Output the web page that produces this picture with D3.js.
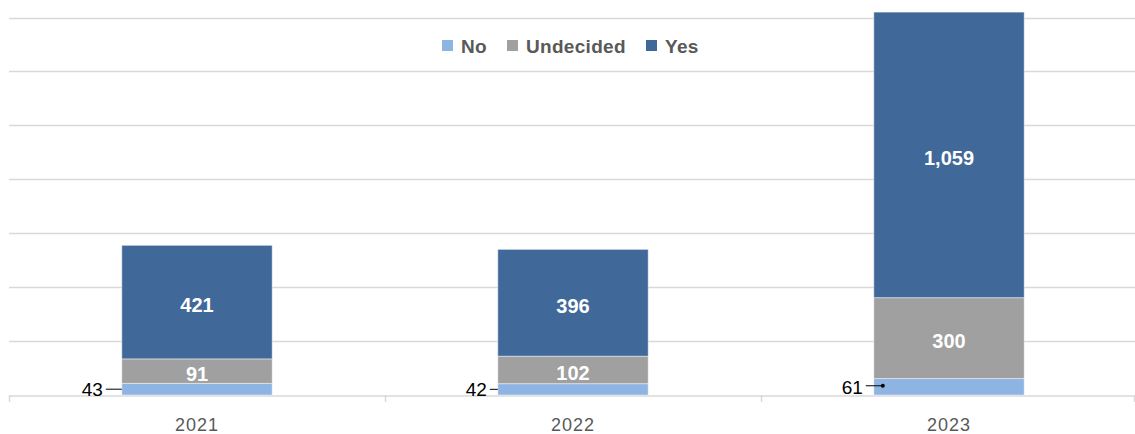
<!DOCTYPE html>
<html><head><meta charset="utf-8">
<script src="https://cdn.jsdelivr.net/npm/d3@7"></script>
<style>
html,body{margin:0;padding:0;background:#fff;}
svg{display:block;font-family:"Liberation Sans",Arial,sans-serif;}
</style></head>
<body><svg id="chart" width="1135" height="434"></svg>
<script>
const years = ["2021", "2022", "2023"];
const seriesNames = ["No", "Undecided", "Yes"];
const noValues = [43, 42, 61];
const undecidedValues = [91, 102, 300];
const yesValues = [421, 396, 1059];
const yTicks = [0, 200, 400, 600, 800, 1000, 1200, 1400];
const colors = ["#8DB4E2", "#A0A0A0", "#40699A"];

const rows = years.map((y, i) => ({year: y, No: noValues[i], Undecided: undecidedValues[i], Yes: yesValues[i]}));
const stack = d3.stack().keys(seriesNames)(rows);

const svg = d3.select("#chart");
const x = d3.scaleBand().domain(years).range([9, 1137]).paddingInner(0).paddingOuter(0);
const y = d3.scaleLinear().domain([0, 1400]).range([395, 17.5]);
const barW = x.bandwidth() * 0.4;

// gridlines
svg.append("g").selectAll("line").data(yTicks.slice(1)).join("line")
  .attr("x1", 9).attr("x2", 1135)
  .attr("y1", d => Math.round(y(d)) + 0.5).attr("y2", d => Math.round(y(d)) + 0.5)
  .attr("stroke", "#D9D9D9").attr("stroke-width", 1.5);

// bars
const groups = svg.append("g").selectAll("g").data(stack).join("g")
  .attr("fill", (d, i) => colors[i]);
groups.selectAll("rect").data(d => d).join("rect")
  .attr("x", d => x(d.data.year) + (x.bandwidth() - barW) / 2)
  .attr("width", barW)
  .attr("y", d => y(d[1]))
  .attr("height", d => y(d[0]) - y(d[1]))
  .attr("stroke", "rgba(255,255,255,0.45)").attr("stroke-width", 1);

// x axis
const xAxis = d3.axisBottom(x).tickSize(0).tickPadding(23);
const ax = svg.append("g").attr("transform", "translate(0,395.5)").call(xAxis);
ax.select(".domain").attr("stroke", "#D9D9D9").attr("stroke-width", 1.5);
ax.selectAll("text").attr("font-size", 18).attr("fill", "#595959")
  .attr("font-family", "Liberation Sans, Arial, sans-serif").attr("letter-spacing", "1px");
// category boundary ticks
svg.append("g").selectAll("line").data([9, 385, 761, 1134]).join("line")
  .attr("x1", d => d + 0.5).attr("x2", d => d + 0.5)
  .attr("y1", 395).attr("y2", 402)
  .attr("stroke", "#D9D9D9").attr("stroke-width", 1.5);

// inside labels for Undecided and Yes
stack.slice(1).forEach(s => {
  svg.append("g").selectAll("text").data(s).join("text")
    .attr("x", d => x(d.data.year) + x.bandwidth() / 2)
    .attr("y", d => (y(d[0]) + y(d[1])) / 2 + 3)
    .attr("dy", "0.35em").attr("text-anchor", "middle")
    .attr("fill", "#fff").attr("font-weight", "bold").attr("font-size", 20)
    .text(d => d3.format(",")(d[1] - d[0]));
});

// No labels with leader lines
const noS = stack[0];
const leaderLen = [16, 8, 17];
const textGap = [19, 11, 11];
noS.forEach((d, i) => {
  const bx = x(d.data.year) + (x.bandwidth() - barW) / 2;
  const cy = (y(d[0]) + y(d[1])) / 2;
  if (i < 2) {
    svg.append("line").attr("x1", bx - leaderLen[i]).attr("x2", bx)
      .attr("y1", cy).attr("y2", cy).attr("stroke", "#000").attr("stroke-width", 1);
  } else {
    svg.append("line").attr("x1", bx - 8).attr("x2", bx + 9)
      .attr("y1", cy - 1).attr("y2", cy - 1).attr("stroke", "#000").attr("stroke-width", 1);
    svg.append("circle").attr("cx", bx + 9).attr("cy", cy - 1).attr("r", 2).attr("fill", "#000");
  }
  svg.append("text").attr("x", bx - textGap[i]).attr("y", cy).attr("dy", "0.36em")
    .attr("text-anchor", "end").attr("font-size", 19).attr("fill", "#000")
    .text(d[1] - d[0]);
});

// legend
const legendX = [442, 507, 646];
const lg = svg.append("g");
seriesNames.forEach((n, i) => {
  lg.append("rect").attr("x", legendX[i]).attr("y", 40).attr("width", 11).attr("height", 11).attr("fill", colors[i]);
  lg.append("text").attr("x", legendX[i] + 19).attr("y", 46).attr("dy", "0.36em")
    .attr("font-size", 19).attr("letter-spacing", "0.3px").attr("font-weight", "bold").attr("fill", "#595959").text(n);
});
</script></body></html>
